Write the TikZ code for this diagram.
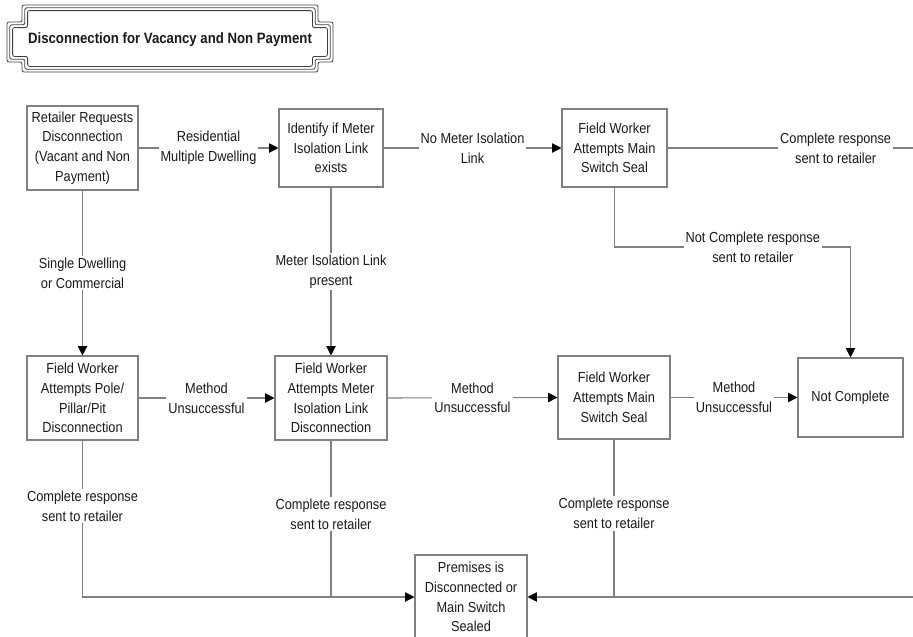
\documentclass[tikz,border=0pt]{standalone}
\usepackage{fontspec}
\setmainfont{Liberation Sans}[FakeStretch=0.88]
\usetikzlibrary{arrows.meta}
\definecolor{linec}{HTML}{808080}
\definecolor{txtc}{HTML}{1A1A1A}
\tikzset{
  box/.style={draw=linec, line width=0.8pt, align=center, inner sep=0pt, text=txtc,
    font=\fontsize{10.9pt}{14.8pt}\selectfont},
  lbl/.style={fill=white, align=center, inner sep=1.5pt, text=txtc,
    font=\fontsize{10.9pt}{14.8pt}\selectfont},
  conn/.style={draw=linec, line width=0.8pt},
  arr/.style={conn, -{Triangle[length=7pt,width=7pt,color=black]}},
  framec/.style={draw=black!75, line width=0.6pt, rounded corners=1.5pt}
}
\begin{document}
\begin{tikzpicture}[x=0.75pt,y=-0.75pt]
\path[use as bounding box] (0,0) rectangle (913,636);
% title frame
\foreach \d in {0,2.8,5.6} {
  \draw[framec] (22+\d,5+\d) -- (318-\d,5+\d) -- (318-\d,22+\d) -- (333-\d,22+\d)
    -- (333-\d,62-\d) -- (318-\d,62-\d) -- (318-\d,72-\d) -- (22+\d,72-\d)
    -- (22+\d,62-\d) -- (7+\d,62-\d) -- (7+\d,22+\d) -- (22+\d,22+\d) -- cycle;
}
\node[text=txtc, font=\fontsize{11.25pt}{13pt}\selectfont\bfseries] (title) at (170,40)
  {Disconnection for Vacancy and Non Payment};
% boxes
\node[box, minimum width=83.25pt, minimum height=63pt] (ret) at (82.5,148)
  {Retailer Requests\\Disconnection\\(Vacant and Non\\Payment)};
\node[box, minimum width=78pt, minimum height=58.5pt] (ident) at (331,148)
  {Identify if Meter\\Isolation Link\\exists};
\node[box, minimum width=78.75pt, minimum height=58.5pt] (ms1) at (614.5,148)
  {Field Worker\\Attempts Main\\Switch Seal};
\node[box, minimum width=83.25pt, minimum height=63pt] (pole) at (82.5,398)
  {Field Worker\\Attempts Pole/\\Pillar/Pit\\Disconnection};
\node[box, minimum width=84pt, minimum height=63pt] (mild) at (331,398)
  {Field Worker\\Attempts Meter\\Isolation Link\\Disconnection};
\node[box, minimum width=84pt, minimum height=62.25pt] (ms2) at (614,397.5)
  {Field Worker\\Attempts Main\\Switch Seal};
\node[box, minimum width=78.75pt, minimum height=59.25pt] (nc) at (850.5,397.5)
  {Not Complete};
\node[box, minimum width=84pt, minimum height=63pt] (prem) at (471,597)
  {Premises is\\Disconnected or\\Main Switch\\Sealed};
% free ends at the right edge
\coordinate (rtop) at (913,148);
\coordinate (rbot) at (913,597);
\coordinate (nctop) at (850.5,247);
% connectors
\draw[arr] (ret.east) -- node[lbl]{Residential\\Multiple Dwelling} (ident.west);
\draw[arr] (ident.east) -- node[lbl]{No Meter Isolation\\Link} (ms1.west);
\draw[conn] (ms1.east) -- node[lbl, pos=0.685]{Complete response\\sent to retailer} (rtop);
\draw[arr] (ms1.south) |- node[lbl, pos=0.793]{Not Complete response\\sent to retailer} (nctop) -- (nc.north);
\draw[arr] (ret.south) -- node[lbl]{Single Dwelling\\or Commercial} (pole.north);
\draw[arr] (ident.south) -- node[lbl]{Meter Isolation Link\\present} (mild.north);
\draw[arr] (pole.east) -- node[lbl]{Method\\Unsuccessful} (mild.west);
\draw[arr] (mild.east) -- node[lbl]{Method\\Unsuccessful} (ms2.west);
\draw[arr] (ms2.east) -- node[lbl]{Method\\Unsuccessful} (nc.west);
\draw[arr] (pole.south) |- node[lbl, pos=0.21]{Complete response\\sent to retailer} (prem.west);
\draw[conn] (mild.south) -- node[lbl, pos=0.47]{Complete response\\sent to retailer} (mild.south |- prem.west);
\draw[conn] (ms2.south) -- node[lbl, pos=0.47]{Complete response\\sent to retailer} (ms2.south |- prem.east);
\draw[arr] (rbot) -- (prem.east);
\end{tikzpicture}
\end{document}
